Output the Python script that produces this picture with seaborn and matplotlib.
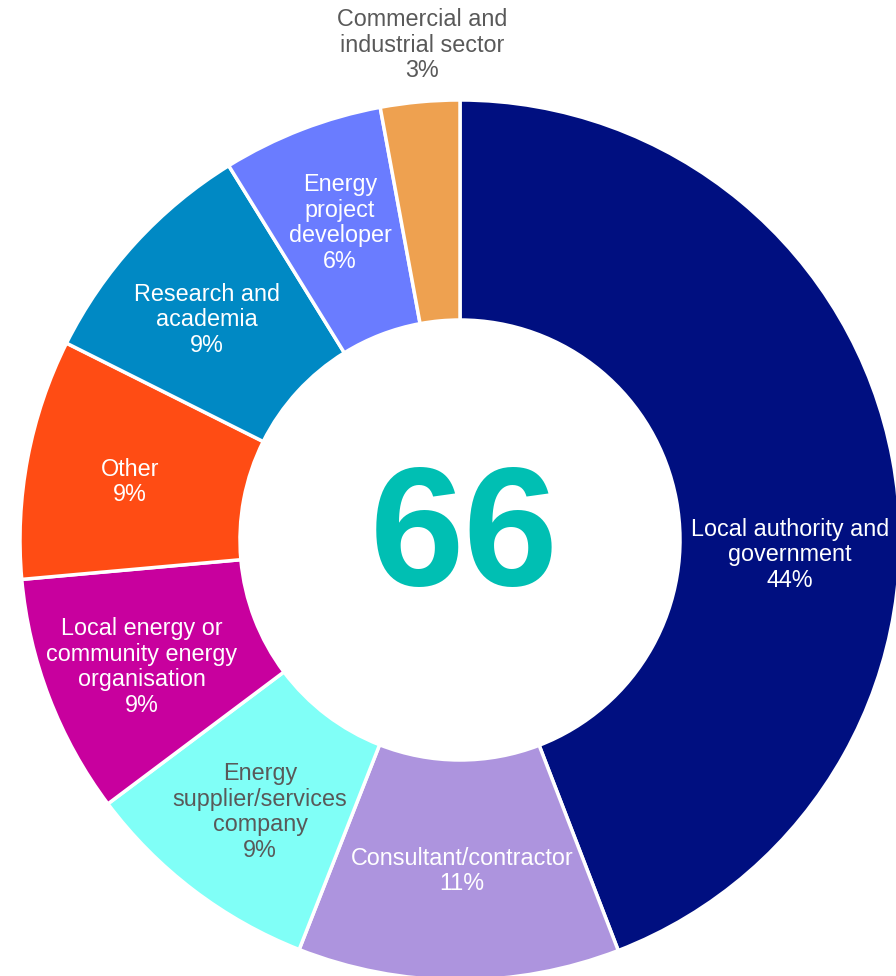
import matplotlib
matplotlib.use("Agg")
import matplotlib.pyplot as plt
import seaborn as sns

# Data: share of responses by organisation type (66 respondents)
categories = [
    "Local authority and\ngovernment",
    "Consultant/contractor",
    "Energy\nsupplier/services\ncompany",
    "Local energy or\ncommunity energy\norganisation",
    "Other",
    "Research and\nacademia",
    "Energy\nproject\ndeveloper",
    "Commercial and\nindustrial sector",
]
shares = [44.1, 11.8, 8.8, 8.8, 8.8, 8.8, 5.9, 2.9]
pct_labels = ["44%", "11%", "9%", "9%", "9%", "9%", "6%", "3%"]
total_respondents = 66

colors = ["#000F80", "#AD94DE", "#80FFF7", "#C8009E",
          "#FF4C14", "#0089C4", "#6A7CFF", "#EEA150"]
text_colors = ["white", "white", "#595959", "white",
               "white", "white", "white", "#595959"]
# label centres in pixels (top-left origin)
label_pos = [(790, 555), (462, 871), (260, 812), (142, 667),
             (130, 482), (207, 320), (340, 223), (422, 45)]

sns.set_theme(style="white")
plt.rcParams["font.family"] = ["Liberation Sans", "DejaVu Sans"]
palette = sns.color_palette(colors)

W, H = 896, 976
fig = plt.figure(figsize=(W / 100, H / 100), dpi=100)
ax = fig.add_axes([0, 0, 1, 1])

ax.pie(
    shares,
    colors=palette,
    startangle=90,
    counterclock=False,
    center=(460, H - 540),
    radius=440,
    wedgeprops=dict(width=220, edgecolor="white", linewidth=2.5),
)
ax.set_xlim(0, W)
ax.set_ylim(0, H)
ax.axis("off")

for cat, pct, col, (x, y) in zip(categories, pct_labels, text_colors, label_pos):
    ax.text(x, H - y, f"{cat}\n{pct}", ha="center", va="center",
            fontsize=16.8, color=col, linespacing=1.15)

ax.text(464, H - 541, str(total_respondents), ha="center", va="center",
        fontsize=122, fontweight="bold", color="#00BFB3")

fig.savefig("out.png", dpi=100)
